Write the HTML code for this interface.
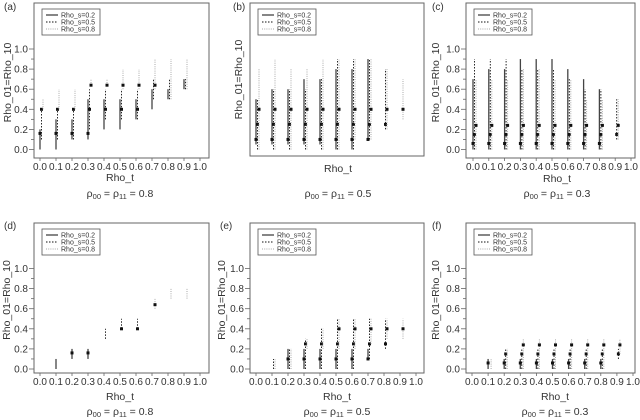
<!DOCTYPE html>
<html><head><meta charset="utf-8"><style>
body{margin:0;background:#fff;}
svg{display:block;font-family:"Liberation Sans",sans-serif;}
</style></head><body>
<svg id="c" width="640" height="420" viewBox="0 0 640 420"></svg>
<script>
const xCategories=[0,0.1,0.2,0.3,0.4,0.5,0.6,0.7,0.8,0.9];
const xTickLabels=["0.0","0.1","0.2","0.3","0.4","0.5","0.6","0.7","0.8","0.9","1.0"];
const yTickLabels=["0.0","0.2","0.4","0.6","0.8","1.0"];
const seriesNames=["Rho_s=0.2","Rho_s=0.5","Rho_s=0.8"];
const n=null;
// panel a
const aPt02=[.16,.16,.16,.16,n,n,n,n,n,n], aLo02=[0,0,.1,.1,.2,.2,.3,.4,.5,.6], aHi02=[.2,.3,.3,.5,.5,.5,.5,.6,.6,.7];
const aPt05=[.4,.4,.4,.4,.4,.4,.4,n,n,n], aLo05=[.1,.1,.1,.2,.3,.3,.3,.5,.5,.6], aHi05=[.4,.4,.4,.6,.6,.6,.6,.7,.7,.7];
const aPt08=[n,n,n,.64,.64,.64,.64,.64,n,n], aLo08=[.4,.4,.4,.64,.64,.6,.6,.6,.5,.6], aHi08=[.5,.6,.6,.7,.7,.8,.8,.9,.9,.9];
// panel b
const bPt02=[.1,.1,.1,.1,.1,.1,.1,.1,n,n], bLo02=[.05,.05,.05,.05,.05,0,0,.1,n,n], bHi02=[.5,.6,.6,.7,.7,.8,.8,.9,n,n];
const bPt05=[.25,.25,.25,.25,.25,.25,.25,.25,.25,n], bLo05=[0,0,0,0,0,0,0,.1,.2,n], bHi05=[.5,.6,.6,.6,.7,.9,.9,.9,.8,n];
const bPt08=[.4,.4,.4,.4,.4,.4,.4,.4,.4,.4], bLo08=[0,0,0,0,0,0,.1,.1,.2,.3], bHi08=[.8,.9,.8,.8,.9,.9,.9,.9,.8,.7];
// panel c
const cPt02=[.06,.06,.06,.06,.06,.06,.06,.06,.06,n], cLo02=[0,0,0,0,0,0,0,0,0,n], cHi02=[.7,.8,.8,.9,.9,.9,.8,.7,.6,n];
const cPt05=[.15,.15,.15,.15,.15,.15,.15,.15,.15,.15], cLo05=[0,0,0,0,0,0,0,0,0,.1], cHi05=[.9,.9,.9,.8,.8,.8,.7,.6,.6,.5];
const cPt08=[.24,.24,.24,.24,.24,.24,.24,.24,.24,.24], cLo08=[0,0,0,0,0,0,0,0,0,.1], cHi08=[.7,.7,.7,.8,.8,.7,.7,.5,.5,.5];
// panel d
const dPt02=[n,n,.16,.16,n,n,n,n,n,n], dLo02=[n,0,.1,.1,n,n,n,n,n,n], dHi02=[n,.1,.2,.2,n,n,n,n,n,n];
const dPt05=[n,n,n,n,n,.4,.4,n,n,n], dLo05=[n,n,n,n,.3,.4,.4,n,n,n], dHi05=[n,n,n,n,.4,.5,.5,n,n,n];
const dPt08=[n,n,n,n,n,n,n,.64,n,n], dLo08=[n,n,n,n,n,n,n,.6,.7,.7], dHi08=[n,n,n,n,n,n,n,.7,.8,.8];
// panel e
const ePt02=[n,n,.1,.1,.1,.1,.1,.1,n,n], eLo02=[n,n,0,0,0,0,0,.1,n,n], eHi02=[n,n,.2,.2,.2,.2,.2,.2,n,n];
const ePt05=[n,n,n,.25,.25,.25,.25,.25,.25,n], eLo05=[n,0,0,0,0,0,0,.1,.2,n], eHi05=[n,.1,.2,.3,.4,.5,.5,.5,.5,n];
const ePt08=[n,n,n,n,n,.4,.4,.4,.4,.4], eLo08=[n,0,0,.2,.2,.2,.2,.25,.3,.3], eHi08=[n,.1,.2,.3,.4,.5,.5,.5,.5,.5];
// panel f
const fPt02=[n,.06,.06,.06,.06,.06,.06,.06,.06,n], fLo02=[n,0,0,0,0,0,0,0,0,n], fHi02=[n,.1,.1,.1,.1,.1,.1,.1,.1,n];
const fPt05=[n,n,.15,.15,.15,.15,.15,.15,.15,.15], fLo05=[n,n,0,0,0,0,0,0,0,.1], fHi05=[n,n,.2,.2,.2,.2,.2,.2,.2,.2];
const fPt08=[n,n,n,.24,.24,.24,.24,.24,.24,.24], fLo08=[n,0,0,0,0,0,0,0,0,.15], fHi08=[n,.1,.2,.3,.3,.3,.3,.3,.3,.3];

const panelData={
 a:[[aPt02,aLo02,aHi02],[aPt05,aLo05,aHi05],[aPt08,aLo08,aHi08]],
 b:[[bPt02,bLo02,bHi02],[bPt05,bLo05,bHi05],[bPt08,bLo08,bHi08]],
 c:[[cPt02,cLo02,cHi02],[cPt05,cLo05,cHi05],[cPt08,cLo08,cHi08]],
 d:[[dPt02,dLo02,dHi02],[dPt05,dLo05,dHi05],[dPt08,dLo08,dHi08]],
 e:[[ePt02,eLo02,eHi02],[ePt05,eLo05,eHi05],[ePt08,eLo08,eHi08]],
 f:[[fPt02,fLo02,fHi02],[fPt05,fLo05,fHi05],[fPt08,fLo08,fHi08]]};
const panelCaptions={a:"0.8",b:"0.5",c:"0.3",d:"0.8",e:"0.5",f:"0.3"};

const panels=[
 {id:"a",L:34,T:3,R:209,B:158,x0:40,xs:160,y0:149.5,ys:100.5,ticks:true,ylx:7,xlab:181,cap:197,cx:120,lx:4,ly:10},
 {id:"b",L:250,T:3,R:424,B:156,x0:256,xs:160,y0:149.5,ys:100.5,ticks:false,ylx:238,xlab:172,cap:197,cx:338,lx:233,ly:10},
 {id:"c",L:466,T:3,R:635,B:158,x0:473,xs:158,y0:149.5,ys:100.5,ticks:true,ylx:435,xlab:182,cap:197,cx:557,lx:432,ly:10},
 {id:"d",L:34,T:223,R:209,B:373,x0:40,xs:160,y0:369,ys:100.5,ticks:true,ylx:6,xlab:400,cap:415,cx:120,lx:4,ly:229},
 {id:"e",L:250,T:223,R:424,B:373,x0:256,xs:160,y0:369,ys:100.5,ticks:true,ylx:221,xlab:400,cap:415,cx:337,lx:220,ly:229},
 {id:"f",L:466,T:223,R:635,B:373,x0:472,xs:161,y0:369,ys:100.5,ticks:true,ylx:435,xlab:400,cap:415,cx:555,lx:432,ly:229}];
const styles=[{c:"#444",w:1.3,d:""},{c:"#111",w:0.9,d:"1.5,1.5"},{c:"#aaa",w:1,d:"1,1.2"}];
const offs=[0,1.5,3];
const NS="http://www.w3.org/2000/svg";
const svg=document.getElementById("c");
function mk(t,a,p){const e=document.createElementNS(NS,t);for(const k in a)e.setAttribute(k,a[k]);(p||svg).appendChild(e);return e;}
panels.forEach(P=>{
 const g=mk("g",{});
 
 
 const X=v=>P.x0+v*P.xs, Y=v=>P.y0-v*P.ys;
 const box=mk("rect",{x:P.L,y:P.T,width:P.R-P.L,height:P.B-P.T,fill:"none",stroke:"#666","stroke-width":1},g);
 
 
 const pl=mk("text",{x:P.lx,y:P.ly,"font-size":10,fill:"#333"},g);pl.textContent="("+P.id+")";
 
 
 if(P.ticks){
  for(let i=0;i<=10;i++){
   const y=Y(i/10);
   mk("line",{x1:P.L-(i%2?3:5),x2:P.L,y1:y,y2:y,stroke:"#666","stroke-width":0.8},g);
   const x=X(i/10);
   mk("line",{x1:x,x2:x,y1:P.B,y2:P.B+3,stroke:"#666","stroke-width":0.8},g);
   const xt=mk("text",{x:x,y:P.B+12,"font-size":10,"text-anchor":"middle",fill:"#333"},g);xt.textContent=xTickLabels[i];
   
   
  }
  yTickLabels.forEach((t,i)=>{const yt=mk("text",{x:P.L-6,y:Y(i*0.2)+3.5,"font-size":10,"text-anchor":"end",fill:"#333"},g);yt.textContent=t;
   
   });
 }
 const cy=(P.T+P.B)/2+(P.ticks?2:0);
 const yl=mk("text",{x:0,y:0,"font-size":10.5,"text-anchor":"middle",fill:"#333",transform:`translate(${P.ylx+4} ${cy}) rotate(-90)`},g);yl.textContent="Rho_01=Rho_10";
 
 
 const xl=mk("text",{x:P.cx,y:P.xlab,"font-size":10.5,"text-anchor":"middle",fill:"#333"},g);xl.textContent="Rho_t";
 
 
 const cp=mk("text",{x:P.cx,y:P.cap,"font-size":10.5,"text-anchor":"middle",fill:"#333"},g);
 cp.innerHTML='ρ<tspan font-size="7.5" dy="2">00</tspan><tspan dy="-2"> = ρ</tspan><tspan font-size="7.5" dy="2">11</tspan><tspan dy="-2"> = '+panelCaptions[P.id]+'</tspan>';
 
 
 const lx=P.L+8, ly=P.T+6;
 const lg=mk("g",{},g);
 
 
 mk("rect",{x:lx,y:ly,width:58,height:26,fill:"#fff",stroke:"#555","stroke-width":0.8},lg);
 seriesNames.forEach((s,k)=>{
  const yy=ly+6+k*7;
  mk("line",{x1:lx+4,x2:lx+16,y1:yy,y2:yy,stroke:styles[k].c,"stroke-width":styles[k].w,"stroke-dasharray":styles[k].d},lg);
  const t=mk("text",{x:lx+19,y:yy+2.5,"font-size":7,fill:"#333"},lg);t.textContent=s;
  
  
 });
 panelData[P.id].forEach((ser,k)=>{
  const [pt,lo,hi]=ser;
  xCategories.forEach((xv,i)=>{
   const x=X(xv)+offs[k];
   if(lo[i]!==null&&hi[i]!==null){
    const l=mk("line",{x1:x,x2:x,y1:Y(lo[i]),y2:Y(hi[i]),stroke:styles[k].c,"stroke-width":styles[k].w,"stroke-dasharray":styles[k].d},g);
    
    
   }
   if(pt[i]!==null){
    const r=mk("rect",{x:x-1.5,y:Y(pt[i])-1.5,width:3,height:3,fill:"#111"},g);
    
    
   }
  });
 });
});
</script>
</body></html>
